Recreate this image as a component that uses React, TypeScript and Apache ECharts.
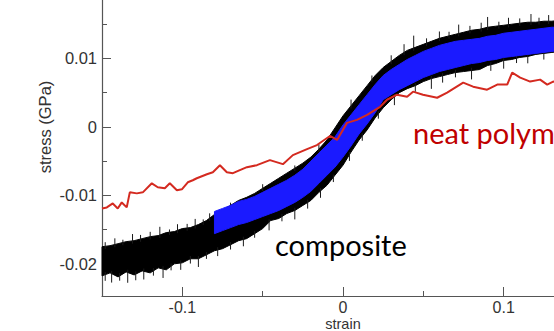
import React, { useEffect, useRef } from "react";
import * as echarts from "echarts";

// strain grid for the composite envelope (step 0.005)
const strainAll = [
  -0.15, -0.145, -0.14, -0.135, -0.13, -0.125, -0.12, -0.115, -0.11, -0.105,
  -0.1, -0.095, -0.09, -0.085, -0.08, -0.075, -0.07, -0.065, -0.06, -0.055,
  -0.05, -0.045, -0.04, -0.035, -0.03, -0.025, -0.02, -0.015, -0.01, -0.005,
  0, 0.005, 0.01, 0.015, 0.02, 0.025, 0.03, 0.035, 0.04, 0.045,
  0.05, 0.055, 0.06, 0.065, 0.07, 0.075, 0.08, 0.085, 0.09, 0.095,
  0.1, 0.105, 0.11, 0.115, 0.12, 0.125, 0.13, 0.135, 0.14, 0.145, 0.15,
];

// composite (black, noisy) upper / lower envelope
const compositeUpper = [
  -0.0175, -0.01735, -0.01706, -0.01676, -0.01662, -0.01632, -0.01603, -0.01588, -0.01544, -0.01529,
  -0.01485, -0.01471, -0.01426, -0.01368, -0.01279, -0.01221, -0.01147, -0.01074, -0.01029, -0.00971,
  -0.00897, -0.00824, -0.0075, -0.00676, -0.00603, -0.00529, -0.00441, -0.00324, -0.00191, -0.00015,
  0.00162, 0.00309, 0.00456, 0.00603, 0.0075, 0.00868, 0.00956, 0.01044, 0.01118, 0.01162,
  0.01206, 0.0125, 0.01294, 0.01324, 0.01353, 0.01382, 0.01412, 0.01426, 0.01456, 0.01471,
  0.01485, 0.015, 0.01515, 0.01529, 0.01529, 0.01544, 0.01544, 0.01559, 0.01559, 0.01574, 0.01574,
];
const compositeLower = [
  -0.02176, -0.02132, -0.02191, -0.02118, -0.02162, -0.02103, -0.02132, -0.02059, -0.02088, -0.02,
  -0.01985, -0.01926, -0.01926, -0.01868, -0.01809, -0.01779, -0.01721, -0.01662, -0.01632, -0.01559,
  -0.01485, -0.01368, -0.01338, -0.01265, -0.01221, -0.01147, -0.01074, -0.00956, -0.00853, -0.00706,
  -0.00559, -0.00368, -0.00191, -0.00044, 0.00132, 0.00279, 0.00397, 0.005, 0.00559, 0.00603,
  0.00662, 0.00706, 0.00735, 0.00765, 0.00794, 0.00809, 0.00824, 0.00838, 0.00897, 0.00926,
  0.00971, 0.00985, 0.01015, 0.01029, 0.01059, 0.01074, 0.01088, 0.01103, 0.01118, 0.01132, 0.01132,
];

// noise spikes on the composite band: strain position and spike length (GPa)
const topSpikeStrain = [
  -0.148, -0.142, -0.137, -0.131, -0.126, -0.12, -0.114, -0.108, -0.103, -0.097,
  -0.092, -0.087, -0.083, -0.07, -0.05, -0.03, -0.015, 0.005, 0.018, 0.03,
  0.038, 0.044, 0.052, 0.06, 0.066, 0.072, 0.079, 0.086, 0.09, 0.097,
  0.103, 0.11, 0.117, 0.122, 0.128, 0.135, 0.142,
];
const topSpikeLen = [
  0.0006, 0.0009, 0.0004, 0.001, 0.0006, 0.0007, 0.0012, 0.0004, 0.0009, 0.0006,
  0.001, 0.0004, 0.0007, 0.0004, 0.0006, 0.0004, 0.0007, 0.0009, 0.0006, 0.0009,
  0.0012, 0.0018, 0.0007, 0.001, 0.0006, 0.0013, 0.0007, 0.0009, 0.0015, 0.0006,
  0.001, 0.0007, 0.0012, 0.0006, 0.0009, 0.0007, 0.0006,
];
const bottomSpikeStrain = [
  -0.148, -0.144, -0.139, -0.134, -0.129, -0.124, -0.118, -0.112, -0.107, -0.101,
  -0.095, -0.09, -0.085, -0.078, -0.07, -0.062, -0.055, -0.046, -0.038, -0.03,
  -0.022, -0.014, -0.006, 0.004, 0.012, 0.022, 0.032, 0.045, 0.055, 0.062,
  0.07, 0.08, 0.092, 0.1, 0.108, 0.115, 0.125, 0.133,
];
const bottomSpikeLen = [
  0.0009, 0.0013, 0.0007, 0.0015, 0.0009, 0.0012, 0.0007, 0.0013, 0.0006, 0.001,
  0.0007, 0.0012, 0.0006, 0.0009, 0.0007, 0.001, 0.0006, 0.0012, 0.0007, 0.0013,
  0.0009, 0.001, 0.0007, 0.0009, 0.0007, 0.0007, 0.0012, 0.0009, 0.0015, 0.001,
  0.0007, 0.0013, 0.0009, 0.0012, 0.0007, 0.001, 0.0009, 0.0006,
];

// blue band strain grid (from -0.08)
const strainBlue = [
  -0.08, -0.075, -0.07, -0.065, -0.06, -0.055, -0.05, -0.045, -0.04, -0.035,
  -0.03, -0.025, -0.02, -0.015, -0.01, -0.005, 0, 0.005, 0.01, 0.015,
  0.02, 0.025, 0.03, 0.035, 0.04, 0.045, 0.05, 0.055, 0.06, 0.065,
  0.07, 0.075, 0.08, 0.085, 0.09, 0.095, 0.1, 0.105, 0.11, 0.115,
  0.12, 0.125, 0.13, 0.135, 0.14, 0.145, 0.15,
];
const blueUpper = [
  -0.01235, -0.01191, -0.01147, -0.01088, -0.01059, -0.01015, -0.00956, -0.00897, -0.00838, -0.00779,
  -0.00706, -0.00618, -0.005, -0.00382, -0.00265, -0.00147, 0.00029, 0.00176, 0.00324, 0.00471,
  0.00618, 0.0075, 0.00838, 0.00912, 0.00985, 0.01044, 0.01103, 0.01147, 0.01191, 0.01221,
  0.0125, 0.01265, 0.01279, 0.01294, 0.01324, 0.01338, 0.01368, 0.01382, 0.01397, 0.01412,
  0.01426, 0.01441, 0.01456, 0.01456, 0.01471, 0.01471, 0.01485,
];
const blueLower = [
  -0.01559, -0.01515, -0.01471, -0.01426, -0.01397, -0.01353, -0.01309, -0.01265, -0.01221, -0.01162,
  -0.01103, -0.01029, -0.00941, -0.00824, -0.00706, -0.00588, -0.00441, -0.00279, -0.00103, 0.00044,
  0.00206, 0.00397, 0.00471, 0.00544, 0.00603, 0.00662, 0.00721, 0.00765, 0.00809, 0.00838,
  0.00868, 0.00897, 0.00926, 0.00941, 0.00971, 0.00985, 0.01015, 0.01029, 0.01044, 0.01059,
  0.01074, 0.01088, 0.01103, 0.01118, 0.01118, 0.01132, 0.01132,
];

// neat polymer (red)
const neatStrain = [
  -0.15, -0.147, -0.1433, -0.1402, -0.1377, -0.1346, -0.1327, -0.1283, -0.1246, -0.119,
  -0.1153, -0.1109, -0.1078, -0.1034, -0.1003, -0.0966, -0.0935, -0.091, -0.0847, -0.081,
  -0.0766, -0.0723, -0.0685, -0.0642, -0.0598, -0.0536, -0.0455, -0.0374, -0.0312, -0.0224,
  -0.0162, -0.0081, -0.0037, 0.0025, 0.0087, 0.015, 0.0231, 0.0274, 0.0336, 0.0399,
  0.0436, 0.0498, 0.0586, 0.0648, 0.0748, 0.081, 0.0897, 0.096, 0.1022, 0.1053,
  0.1103, 0.1165, 0.1227, 0.1271, 0.1308, 0.14, 0.15,
];
const neatStress = [
  -0.01191, -0.01176, -0.01118, -0.01191, -0.01103, -0.01176, -0.00956, -0.00971, -0.00956, -0.00824,
  -0.00882, -0.00897, -0.00824, -0.00926, -0.00912, -0.00809, -0.00779, -0.0075, -0.00691, -0.00662,
  -0.00559, -0.00662, -0.00676, -0.00632, -0.00588, -0.00559, -0.00485, -0.00544, -0.00412, -0.00324,
  -0.00265, -0.00132, -0.00191, 0.00059, 0.00103, 0.00176, 0.00294, 0.00397, 0.00471, 0.00441,
  0.00515, 0.00471, 0.00426, 0.005, 0.00647, 0.00588, 0.00544, 0.00618, 0.00618, 0.00794,
  0.00721, 0.00662, 0.00691, 0.00618, 0.00662, 0.0065, 0.0068,
];

const xMajorTicks = [-0.1, 0, 0.1];
const xMinorTicks = [-0.05, 0.05];
const yMajorTicks = [-0.02, -0.01, 0, 0.01, 0.02];
const yMinorTicks = [-0.015, -0.005, 0.005, 0.015];

const AXIS_COLOR = "#555";
const LABEL_FONT = "'Liberation Sans', Arial, sans-serif";
const NOTE_FONT = "Lato, 'Open Sans', sans-serif";

const fmt = (v: number) => (v === 0 ? "0" : String(+v.toFixed(3)));

function interp(xs: number[], ys: number[], x: number) {
  for (let i = 0; i < xs.length - 1; i++) {
    if (x >= xs[i] && x <= xs[i + 1]) {
      const t = (x - xs[i]) / (xs[i + 1] - xs[i]);
      return ys[i] + t * (ys[i + 1] - ys[i]);
    }
  }
  return ys[ys.length - 1];
}

function bandSeries(xs: number[], up: number[], lo: number[], color: string, z: number) {
  return {
    type: "custom",
    z,
    silent: true,
    data: [[xs[0], up[0]]],
    renderItem: (params: any, api: any) => {
      const pts: number[][] = [];
      for (let i = 0; i < xs.length; i++) pts.push(api.coord([xs[i], up[i]]));
      for (let i = xs.length - 1; i >= 0; i--) pts.push(api.coord([xs[i], lo[i]]));
      return {
        type: "polygon",
        shape: { points: pts },
        style: { fill: color, stroke: color, lineWidth: 1 },
      };
    },
  };
}

function spikeSeries(sx: number[], len: number[], env: number[], dir: number) {
  return {
    type: "custom",
    z: 2,
    silent: true,
    data: sx.map((x, i) => [x, len[i]]),
    renderItem: (params: any, api: any) => {
      const x = api.value(0);
      const l = api.value(1);
      const base = interp(strainAll, env, x);
      const p0 = api.coord([x, base - dir * 0.0004]);
      const p1 = api.coord([x, base + dir * l]);
      return {
        type: "line",
        shape: { x1: p0[0], y1: p0[1], x2: p1[0], y2: p1[1] },
        style: { stroke: "#1a1a1a", lineWidth: 1 },
      };
    },
  };
}

export default function App() {
  const ref = useRef<HTMLDivElement>(null);
  useEffect(() => {
    if (!ref.current) return;
    const chart = echarts.init(ref.current, undefined, { renderer: "svg" });
    const yBase = { type: "value", min: -0.0247, max: 0.02, splitLine: { show: false } };
    const xBase = { type: "value", min: -0.15, max: 0.15, splitLine: { show: false } };
    chart.setOption({
      animation: false,
      backgroundColor: "#fff",
      grid: { left: 102, right: -30, top: -10, bottom: 35, containLabel: false, outerBoundsMode: "none" },
      xAxis: [
        {
          ...xBase,
          position: "bottom",
          axisLine: { show: true, onZero: false, lineStyle: { color: AXIS_COLOR, width: 1.2 } },
          axisTick: { show: true, inside: true, length: 9, customValues: xMajorTicks, lineStyle: { color: AXIS_COLOR } },
          axisLabel: {
            customValues: xMajorTicks,
            formatter: fmt,
            color: "#333",
            fontSize: 16,
            fontFamily: LABEL_FONT,
            margin: 3,
          },
        },
        {
          ...xBase,
          position: "bottom",
          axisLine: { show: false, onZero: false },
          axisTick: { show: true, inside: true, length: 5, customValues: xMinorTicks, lineStyle: { color: AXIS_COLOR } },
          axisLabel: { show: false },
        },
      ],
      yAxis: [
        {
          ...yBase,
          position: "left",
          axisLine: { show: true, onZero: false, lineStyle: { color: AXIS_COLOR, width: 1.2 } },
          axisTick: { show: true, inside: true, length: 9, customValues: yMajorTicks, lineStyle: { color: AXIS_COLOR } },
          axisLabel: {
            customValues: yMajorTicks,
            formatter: fmt,
            color: "#333",
            fontSize: 16.5,
            fontFamily: LABEL_FONT,
            margin: 5,
          },
        },
        {
          ...yBase,
          position: "left",
          axisLine: { show: false, onZero: false },
          axisTick: { show: true, inside: true, length: 5, customValues: yMinorTicks, lineStyle: { color: AXIS_COLOR } },
          axisLabel: { show: false },
        },
      ],
      series: [
        bandSeries(strainAll, compositeUpper, compositeLower, "#000", 2),
        spikeSeries(topSpikeStrain, topSpikeLen, compositeUpper, 1),
        spikeSeries(bottomSpikeStrain, bottomSpikeLen, compositeLower, -1),
        bandSeries(strainBlue, blueUpper, blueLower, "#1a1aff", 3),
        {
          type: "line",
          z: 4,
          data: neatStrain.map((x, i) => [x, neatStress[i]]),
          showSymbol: false,
          lineStyle: { color: "#d42a20", width: 2 },
        },
      ],
      graphic: [
        {
          type: "text",
          x: 45,
          y: 127,
          rotation: Math.PI / 2,
          style: { text: "stress (GPa)", fontSize: 16.5, fontFamily: LABEL_FONT, fill: "#333", align: "center", verticalAlign: "middle" },
        },
        {
          type: "text",
          x: 343,
          y: 323.5,
          style: { text: "strain", fontSize: 14.5, fontFamily: LABEL_FONT, fill: "#333", align: "center", verticalAlign: "middle" },
        },
        {
          type: "text",
          x: 275,
          y: 244,
          style: { text: "composite", fontSize: 29, fontFamily: NOTE_FONT, fill: "#000", align: "left", verticalAlign: "middle" },
        },
        {
          type: "text",
          x: 413,
          y: 132,
          style: { text: "neat polymer", fontSize: 29, fontFamily: NOTE_FONT, fill: "#c00000", align: "left", verticalAlign: "middle" },
        },
      ],
    });
    return () => chart.dispose();
  }, []);
  return <div ref={ref} style={{ width: 554, height: 331, position: "absolute", left: 0, top: 0 }} />;
}
